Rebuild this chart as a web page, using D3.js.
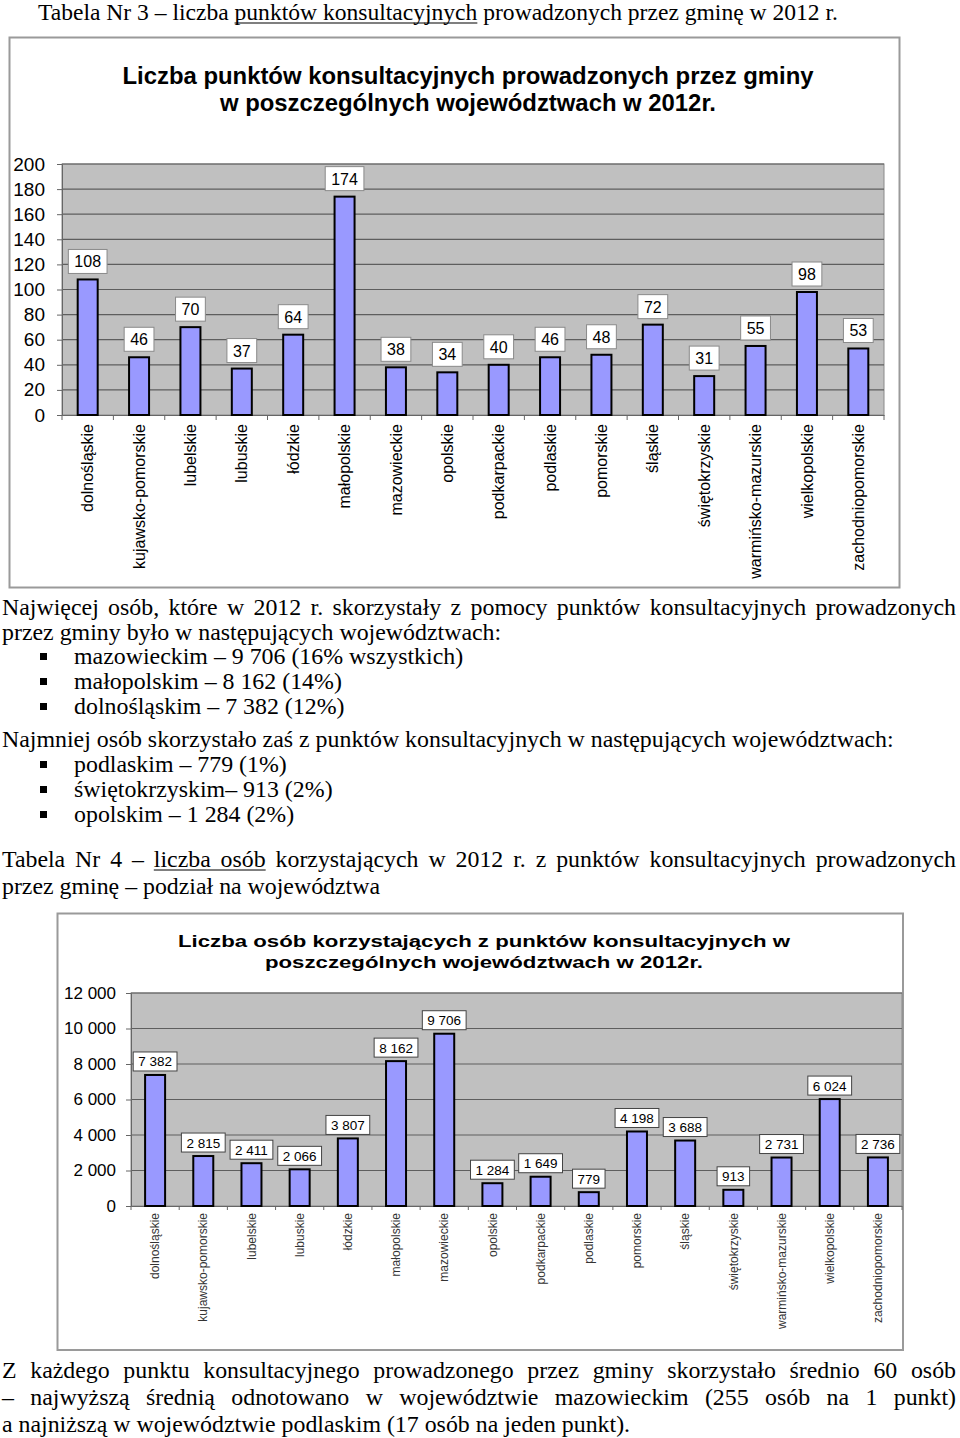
<!DOCTYPE html>
<html><head><meta charset="utf-8">
<script src="https://cdn.jsdelivr.net/npm/d3@7/dist/d3.min.js"></script>
<style>body{margin:0;background:#fff}svg{display:block}</style>
</head><body>
<svg id="c" width="960" height="1438"></svg>
<script>
// ---------- DATA ----------
const categories = ["dolnośląskie","kujawsko-pomorskie","lubelskie","lubuskie","łódzkie","małopolskie","mazowieckie","opolskie","podkarpackie","podlaskie","pomorskie","śląskie","świętokrzyskie","warmińsko-mazurskie","wielkopolskie","zachodniopomorskie"];
const pointsCount = [108,46,70,37,64,174,38,34,40,46,48,72,31,55,98,53];
const personsCount = [7382,2815,2411,2066,3807,8162,9706,1284,1649,779,4198,3688,913,2731,6024,2736];
const topTicks = [0,20,40,60,80,100,120,140,160,180,200];
const bottomTicks = [0,2000,4000,6000,8000,10000,12000];
const topTitle = ["Liczba punktów konsultacyjnych prowadzonych przez gminy","w poszczególnych województwach w 2012r."];
const bottomTitle = ["Liczba osób korzystających z punktów konsultacyjnych w","poszczególnych województwach w 2012r."];

const svg = d3.select("#c");
const SERIF = "'Liberation Serif','Times New Roman',Times,serif";
const SANS = "'Liberation Sans',Arial,sans-serif";
const fmt = v => d3.format(",")(v).replace(/,/g, "\u00a0");

function measure(str, family, size, weight) {
  const t = svg.append("text").attr("font-family", family).attr("font-size", size)
    .attr("font-weight", weight || "normal").text(str);
  const w = t.node().getComputedTextLength(); t.remove(); return w;
}
function sxFor(text, width, family, size) { return width / measure(text, family, size); }
function placeLine(o) {
  const words = o.text.split(" ");
  const widths = words.map(w => measure(w, o.family, o.size));
  const spaceW = measure("a a", o.family, o.size) - 2 * measure("a", o.family, o.size);
  const sx = o.sx || 1;
  const gap = o.justify ? (o.x1 - o.x0 - sx * d3.sum(widths)) / (words.length - 1) : spaceW * sx;
  let x = o.x0; const pos = [];
  words.forEach((w, i) => {
    svg.append("text").attr("x", x).attr("y", o.y).attr("font-family", o.family)
      .attr("font-size", o.size).attr("fill", "#000")
      .attr("textLength", widths[i] * sx).attr("lengthAdjust", "spacingAndGlyphs").text(w);
    pos.push([x, x + widths[i] * sx]);
    x += widths[i] * sx + gap;
  });
  if (o.underline) {
    const [a, b] = o.underline;
    svg.append("line").attr("x1", pos[a][0]).attr("x2", pos[b][1])
      .attr("y1", o.y + 3).attr("y2", o.y + 3).attr("stroke", "#000").attr("stroke-width", 1.2);
  }
}

// ---------- PAGE TEXT ----------
{
  const t = "Tabela Nr 3 – liczba punktów konsultacyjnych prowadzonych przez gminę w 2012 r.";
  placeLine({text: t, x0: 38, y: 20, size: 23, family: SERIF, sx: sxFor(t, 800, SERIF, 23), underline: [5, 6]});
}
{
  const ref = "Najmniej osób skorzystało zaś z punktów konsultacyjnych w następujących województwach:";
  const size = 22 * sxFor(ref, 892, SERIF, 22);
  const sx = 1;
  placeLine({text: "Najwięcej osób, które w 2012 r. skorzystały z pomocy punktów konsultacyjnych prowadzonych", x0: 2, x1: 956, y: 615, size, family: SERIF, sx, justify: true});
  placeLine({text: "przez gminy było w następujących województwach:", x0: 2, y: 640, size, family: SERIF, sx});
  const b1 = ["mazowieckim – 9 706 (16% wszystkich)", "małopolskim – 8 162 (14%)", "dolnośląskim – 7 382 (12%)"];
  b1.forEach((s, i) => {
    const y = 664 + i * 25;
    svg.append("rect").attr("x", 40).attr("y", y - 11).attr("width", 7).attr("height", 7).attr("fill", "#000");
    placeLine({text: s, x0: 74, y, size, family: SERIF, sx});
  });
  placeLine({text: ref, x0: 2, y: 747, size, family: SERIF, sx});
  const b2 = ["podlaskim – 779 (1%)", "świętokrzyskim– 913 (2%)", "opolskim – 1 284 (2%)"];
  b2.forEach((s, i) => {
    const y = 772 + i * 25;
    svg.append("rect").attr("x", 40).attr("y", y - 11).attr("width", 7).attr("height", 7).attr("fill", "#000");
    placeLine({text: s, x0: 74, y, size, family: SERIF, sx});
  });
}
{
  const size = 24;
  const last = "przez gminę – podział na województwa";
  const sx = sxFor(last, 378, SERIF, size);
  placeLine({text: "Tabela Nr 4 – liczba osób korzystających w 2012 r. z punktów konsultacyjnych prowadzonych", x0: 2, x1: 956, y: 867, size, family: SERIF, sx, justify: true, underline: [4, 5]});
  placeLine({text: last, x0: 2, y: 894, size, family: SERIF, sx});
}
{
  const size = 24;
  const last = "a najniższą w województwie podlaskim (17 osób na jeden punkt).";
  const sx = sxFor(last, 628, SERIF, size);
  placeLine({text: "Z każdego punktu konsultacyjnego prowadzonego przez gminy skorzystało średnio 60 osób", x0: 2, x1: 956, y: 1378, size, family: SERIF, sx, justify: true});
  placeLine({text: "– najwyższą średnią odnotowano w województwie mazowieckim (255 osób na 1 punkt)", x0: 2, x1: 956, y: 1405, size, family: SERIF, sx, justify: true});
  placeLine({text: last, x0: 2, y: 1432, size, family: SERIF, sx});
}

// ---------- CHART 1 ----------
{
  const g = svg.append("g");
  g.append("rect").attr("x", 9.5).attr("y", 37.5).attr("width", 890).attr("height", 550)
    .attr("fill", "#fff").attr("stroke", "#9a9a9a").attr("stroke-width", 2);
  const tw = [691, 496];
  topTitle.forEach((t, i) => g.append("text").attr("x", 468).attr("y", 84 + i * 27)
    .attr("text-anchor", "middle").attr("font-family", SANS).attr("font-weight", "bold")
    .attr("font-size", 23).attr("textLength", tw[i]).attr("lengthAdjust", "spacingAndGlyphs").text(t));

  const x = d3.scaleBand().domain(categories).range([62, 884]);
  const y = d3.scaleLinear().domain([0, 200]).range([415, 164]);
  g.append("rect").attr("x", 62).attr("y", 164).attr("width", 822).attr("height", 251)
    .attr("fill", "#c0c0c0").attr("stroke", "#8a8a8a");
  g.selectAll(".gl").data(topTicks.filter(d => d > 0)).join("line")
    .attr("x1", 62).attr("x2", 884).attr("y1", d => y(d)).attr("y2", d => y(d))
    .attr("stroke", "#5e5e5e").attr("stroke-width", 1.2);
  const ya = g.append("g").attr("transform", "translate(62,0)")
    .call(d3.axisLeft(y).tickValues(topTicks).tickSize(5).tickPadding(12));
  ya.select(".domain").attr("stroke", "#666");
  ya.selectAll(".tick line").attr("stroke", "#666");
  ya.selectAll("text").attr("font-family", SANS).attr("font-size", 19).attr("fill", "#000");
  const xa = g.append("g").attr("transform", "translate(0,415)")
    .call(d3.axisBottom(x).tickSize(0).tickFormat(""));
  xa.select(".domain").attr("stroke", "#666");
  g.selectAll(".xt").data(d3.range(17)).join("line")
    .attr("x1", i => 62 + i * x.step()).attr("x2", i => 62 + i * x.step())
    .attr("y1", 415).attr("y2", 420).attr("stroke", "#666");
  const bw = 20;
  g.selectAll(".bar").data(pointsCount).join("rect")
    .attr("x", (d, i) => x(categories[i]) + x.bandwidth() / 2 - bw / 2).attr("width", bw)
    .attr("y", d => y(d)).attr("height", d => 415 - y(d))
    .attr("fill", "#9999ff").attr("stroke", "#000").attr("stroke-width", 2);
  pointsCount.forEach((d, i) => {
    const cx = x(categories[i]) + x.bandwidth() / 2;
    const s = String(d);
    const w = measure(s, SANS, 16) + 12;
    const by = y(d) - 6 - 24;
    g.append("rect").attr("x", cx - w / 2).attr("y", by).attr("width", w).attr("height", 24)
      .attr("fill", "#fff").attr("stroke", "#8a8a8a");
    g.append("text").attr("x", cx).attr("y", by + 18).attr("text-anchor", "middle")
      .attr("font-family", SANS).attr("font-size", 16).text(s);
  });
  categories.forEach(c => {
    g.append("text").attr("transform", `translate(${x(c) + x.bandwidth() / 2},424) rotate(-90)`)
      .attr("text-anchor", "end").attr("dy", "0.35em").attr("font-family", SANS)
      .attr("font-size", 16).text(c);
  });
}

// ---------- CHART 2 ----------
{
  const g = svg.append("g");
  g.append("rect").attr("x", 57.5).attr("y", 913.5).attr("width", 845.5).attr("height", 436.5)
    .attr("fill", "#fff").attr("stroke", "#9a9a9a").attr("stroke-width", 2);
  const tw = [612, 438];
  bottomTitle.forEach((t, i) => g.append("text").attr("x", 484).attr("y", 947 + i * 21)
    .attr("text-anchor", "middle").attr("font-family", SANS).attr("font-weight", "bold")
    .attr("font-size", 17).attr("textLength", tw[i]).attr("lengthAdjust", "spacingAndGlyphs").text(t));

  const x = d3.scaleBand().domain(categories).range([131, 902]);
  const y = d3.scaleLinear().domain([0, 12000]).range([1206, 993]);
  g.append("rect").attr("x", 131).attr("y", 993).attr("width", 771).attr("height", 213)
    .attr("fill", "#c0c0c0").attr("stroke", "#8a8a8a");
  g.selectAll(".gl").data(bottomTicks.filter(d => d > 0)).join("line")
    .attr("x1", 131).attr("x2", 902).attr("y1", d => y(d)).attr("y2", d => y(d))
    .attr("stroke", "#5e5e5e").attr("stroke-width", 1.2);
  const ya = g.append("g").attr("transform", "translate(131,0)")
    .call(d3.axisLeft(y).tickValues(bottomTicks).tickSize(5).tickPadding(10).tickFormat(fmt));
  ya.select(".domain").attr("stroke", "#666");
  ya.selectAll(".tick line").attr("stroke", "#666");
  ya.selectAll("text").attr("font-family", SANS).attr("font-size", 17).attr("fill", "#000");
  const xa = g.append("g").attr("transform", "translate(0,1206)")
    .call(d3.axisBottom(x).tickSize(0).tickFormat(""));
  xa.select(".domain").attr("stroke", "#666");
  g.selectAll(".xt").data(d3.range(17)).join("line")
    .attr("x1", i => 131 + i * x.step()).attr("x2", i => 131 + i * x.step())
    .attr("y1", 1206).attr("y2", 1210).attr("stroke", "#666");
  const bw = 20;
  g.selectAll(".bar").data(personsCount).join("rect")
    .attr("x", (d, i) => x(categories[i]) + x.bandwidth() / 2 - bw / 2).attr("width", bw)
    .attr("y", d => y(d)).attr("height", d => 1206 - y(d))
    .attr("fill", "#9999ff").attr("stroke", "#000").attr("stroke-width", 2);
  personsCount.forEach((d, i) => {
    const cx = x(categories[i]) + x.bandwidth() / 2;
    const s = fmt(d);
    const w = measure(s, SANS, 13.5) + 10;
    const by = y(d) - 4 - 19;
    g.append("rect").attr("x", cx - w / 2).attr("y", by).attr("width", w).attr("height", 19)
      .attr("fill", "#fff").attr("stroke", "#444");
    g.append("text").attr("x", cx).attr("y", by + 14.5).attr("text-anchor", "middle")
      .attr("font-family", SANS).attr("font-size", 13.5).text(s);
  });
  categories.forEach(c => {
    g.append("text").attr("transform", `translate(${x(c) + x.bandwidth() / 2},1213) rotate(-90)`)
      .attr("text-anchor", "end").attr("dy", "0.35em").attr("font-family", SANS)
      .attr("font-size", 12).attr("fill", "#333").text(c);
  });
}
</script>
</body></html>
